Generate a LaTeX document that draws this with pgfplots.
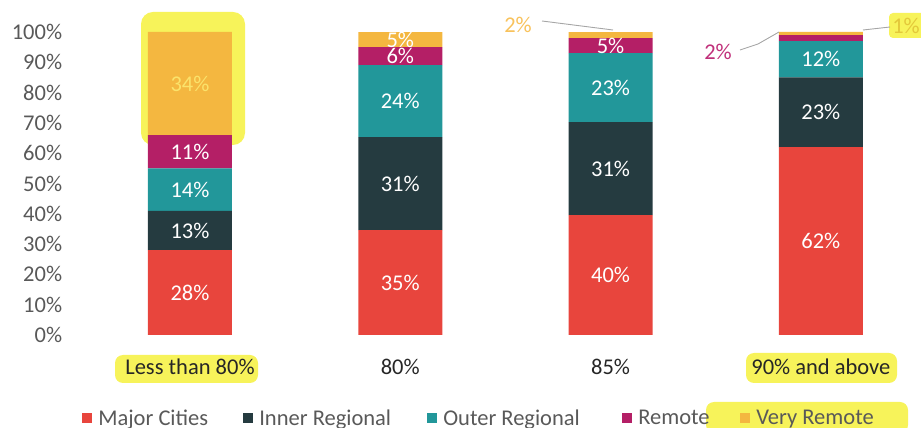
\documentclass[border=0pt]{standalone}
\usepackage{pgfplots}
\pgfplotsset{compat=1.18}
\usepackage{fontspec}
\setmainfont{Carlito}
\definecolor{cMajor}{HTML}{E8453D}
\definecolor{cInner}{HTML}{253B40}
\definecolor{cOuter}{HTML}{22979A}
\definecolor{cRemote}{HTML}{B41F66}
\definecolor{cVery}{HTML}{F4B740}
\definecolor{hl}{HTML}{F7F35A}
\definecolor{tickgray}{HTML}{595959}
\definecolor{catdark}{HTML}{262626}
\definecolor{lead}{HTML}{A6A6A6}
\definecolor{lblVery}{HTML}{F8C25C}
\definecolor{lblRemote}{HTML}{C0307A}
\definecolor{lblOne}{HTML}{E3C83A}
\definecolor{lbl34}{HTML}{FBE36B}
\newcommand{\fs}{\fontsize{22.5}{27}\selectfont}
\begin{document}
\begin{tikzpicture}[x=1pt,y=1pt]
\useasboundingbox (0,0) rectangle (921,428);
% scanned highlighter marks
\fill[hl, rounded corners=12pt] (141,283) rectangle (245,416);
\fill[hl, rounded corners=8pt] (115,45) rectangle (258,73);
\fill[hl, rounded corners=8pt] (746,45) rectangle (897,75);
\fill[hl, rounded corners=8pt] (706,-5) rectangle (908,26);
\fill[hl, rounded corners=4pt] (889,390) rectangle (925,415);
\begin{axis}[
  at={(74.3pt,93pt)}, anchor=south west,
  scale only axis, width=841.2pt, height=303pt,
  xmin=-0.55, xmax=3.45, ymin=0, ymax=100,
  ybar stacked, bar width=84pt,
  axis line style={draw=none}, tick style={draw=none},
  xtick={0,1,2,3},
  xticklabels={Less than 80\%, 80\%, 85\%, 90\% and above},
  xticklabel style={anchor=base, yshift=-40pt, inner sep=0pt, font=\fs, text=catdark},
  ytick={0,10,20,30,40,50,60,70,80,90,100},
  yticklabels={0\%,10\%,20\%,30\%,40\%,50\%,60\%,70\%,80\%,90\%,100\%},
  yticklabel style={anchor=east, inner sep=0pt, xshift=-12pt, font=\fs, text=tickgray},
  point meta=explicit symbolic,
  nodes near coords,
  every node near coord/.append style={anchor=center, font=\fs, text=white},
  legend columns=5,
  legend style={at={(axis description cs:0.0093,-0.274)}, anchor=west, draw=none, fill=none, inner sep=0pt,
    font=\fs, text=tickgray, nodes={inner xsep=0pt, inner ysep=2pt, anchor=west},
    /tikz/every odd column/.append style={column sep=6pt},
    /tikz/every even column/.append style={column sep=0pt}},
  legend image code/.code={\fill[#1] (0pt,-5pt) rectangle (10pt,5pt);},
]
\addplot[fill=cMajor, draw=none] coordinates {(0,28)[28\%] (1,34.65)[35\%] (2,39.6)[40\%] (3,62)[62\%]};
\addplot[fill=cInner, draw=none] coordinates {(0,13)[13\%] (1,30.69)[31\%] (2,30.69)[31\%] (3,23)[23\%]};
\addplot[fill=cOuter, draw=none] coordinates {(0,14)[14\%] (1,23.76)[24\%] (2,22.77)[23\%] (3,12)[12\%]};
\addplot[fill=cRemote, draw=none] coordinates {(0,11)[11\%] (1,5.94)[6\%] (2,4.95)[5\%] (3,2)[]};
\addplot[fill=cVery, draw=none] coordinates {(0,34)[\textcolor{lbl34}{34\%}] (1,4.95)[5\%] (2,1.98)[] (3,1)[]};
\legend{\makebox[145pt][l]{Major Cities}, \makebox[168pt][l]{Inner Regional}, \makebox[179pt][l]{Outer Regional}, \makebox[102pt][l]{Remote}, Very Remote}
\end{axis}
% data labels for thin segments, with leader lines
\draw[lead, line width=0.9pt] (542,407) -- (613,398);
\node[inner sep=0pt, font=\fs, text=lblVery] at (518,403) {2\%};
\draw[lead, line width=0.9pt] (740,378) -- (758,384) -- (779,396);
\node[inner sep=0pt, font=\fs, text=lblRemote] at (718,376) {2\%};
\draw[lead, line width=0.9pt] (863,398) -- (890,401);
\node[inner sep=0pt, font=\fs, text=lblOne] at (906,402) {1\%};
\end{tikzpicture}
\end{document}
